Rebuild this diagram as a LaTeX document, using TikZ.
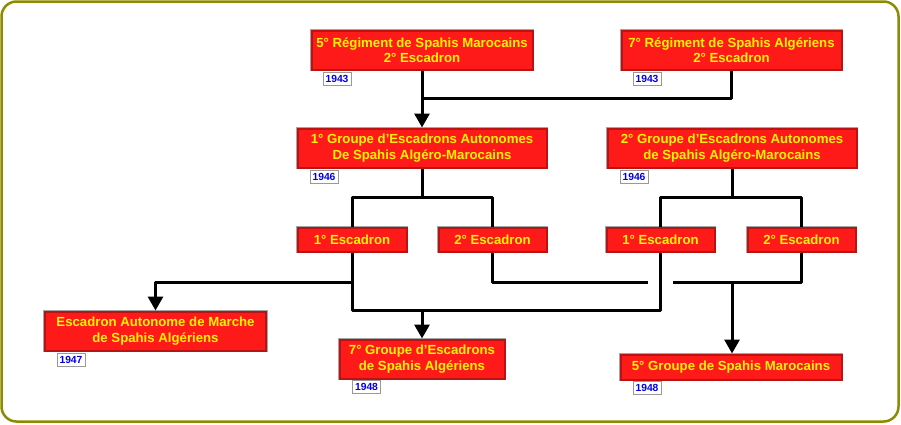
\documentclass[tikz,border=0pt]{standalone}
\usepackage{fontspec}
\setmainfont{Liberation Sans}
\usetikzlibrary{arrows.meta}
\definecolor{boxred}{RGB}{255,26,26}
\definecolor{boxedge}{RGB}{185,20,20}
\definecolor{boxtext}{RGB}{255,245,0}
\definecolor{tagblue}{RGB}{0,0,230}
\definecolor{frameolive}{RGB}{140,140,0}
\tikzset{
  unitbox/.style={fill=boxred, draw=boxedge, line width=2pt,
    preaction={draw=gray!70, line width=3.5pt},
    inner sep=0pt, align=center, text=boxtext,
    font=\bfseries\fontsize{13.2}{15.5}\selectfont},
  yeartag/.style={fill=white, draw=gray!80, line width=1pt, inner sep=0pt,
    minimum width=28pt, minimum height=13pt, text=tagblue,
    font=\bfseries\fontsize{10.3}{11}\selectfont},
  link/.style={draw=black, line width=3pt, line join=round},
  arrowlink/.style={link, -{Triangle[width=15pt,length=14pt]}},
}
\begin{document}
\begin{tikzpicture}[x=1pt,y=-1pt]
\useasboundingbox (0,0) rectangle (901,424);
\draw[frameolive, line width=2.5pt, rounded corners=15pt] (1.5,1.5) rectangle (898.5,421.5);

% boxes
\node[unitbox, minimum width=221pt, minimum height=39pt] (A) at (422,50) {5° Régiment de Spahis Marocains\\2° Escadron};
\node[unitbox, minimum width=220pt, minimum height=39pt] (B) at (731.5,50) {7° Régiment de Spahis Algériens\\2° Escadron};
\node[unitbox, minimum width=249pt, minimum height=39pt] (C) at (422,148) {1° Groupe d’Escadrons Autonomes\\De Spahis Algéro-Marocains};
\node[unitbox, minimum width=249pt, minimum height=39pt] (D) at (732,148) {2° Groupe d’Escadrons Autonomes\\de Spahis Algéro-Marocains};
\node[unitbox, minimum width=109pt, minimum height=24pt] (E) at (352,239.5) {1° Escadron};
\node[unitbox, minimum width=108pt, minimum height=24pt] (F) at (492.5,239.5) {2° Escadron};
\node[unitbox, minimum width=108pt, minimum height=24pt] (G) at (660.5,239.5) {1° Escadron};
\node[unitbox, minimum width=108pt, minimum height=24pt] (H) at (801.5,239.5) {2° Escadron};
\node[unitbox, minimum width=221pt, minimum height=39pt] (I) at (155.5,331) {Escadron Autonome de Marche\\de Spahis Algériens};
\node[unitbox, minimum width=165pt, minimum height=39pt] (J) at (422,359) {7° Groupe d’Escadrons\\de Spahis Algériens};
\node[unitbox, minimum width=221pt, minimum height=25pt] (K) at (731,367) {5° Groupe de Spahis Marocains};

% year tags
\node[yeartag] (tA) at (337,78.5) {1943};
\node[yeartag] (tB) at (647,78.5) {1943};
\node[yeartag] (tC) at (324,177) {1946};
\node[yeartag] (tD) at (634,177) {1946};
\node[yeartag] (tI) at (71,359.5) {1947};
\node[yeartag] (tJ) at (366.5,386.5) {1948};
\node[yeartag] (tK) at (647,387.5) {1948};

% junctions
\coordinate (j1) at (422,98);
\coordinate (j2) at (422,197);
\coordinate (j3) at (732,197);
\coordinate (j4) at (422,310);
\coordinate (j5) at (352,282);
\coordinate (j6) at (732,282);
\coordinate (g1) at (648,282);
\coordinate (g2) at (673,282);

% connectors
\draw[arrowlink] (A.south) -- (C.north);
\draw[link] (B.south) |- (j1);
\draw[link] (C.south) -- (j2);
\draw[link] (E.north) |- (j2) -| (F.north);
\draw[link] (D.south) -- (j3);
\draw[link] (G.north) |- (j3) -| (H.north);
\draw[link] (E.south) |- (j4) -| (G.south);
\draw[arrowlink] (j4) -- (J.north);
\draw[arrowlink] (j5) -| (I.north);
\draw[link] (F.south) |- (g1);
\draw[link] (g2) -| (H.south);
\draw[arrowlink] (j6) -- (j6 |- K.north);
\end{tikzpicture}
\end{document}
